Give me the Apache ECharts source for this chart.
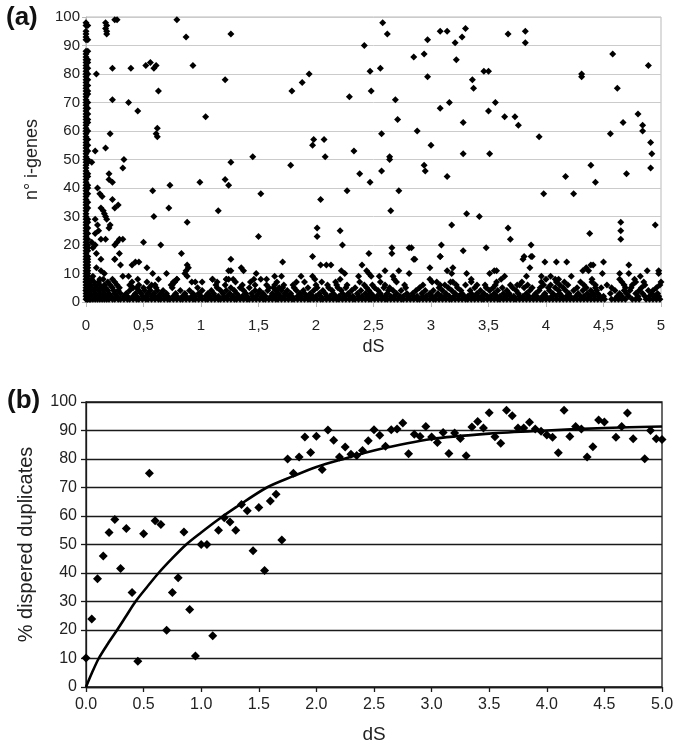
<!DOCTYPE html>
<html><head><meta charset="utf-8">
<script src="https://cdn.jsdelivr.net/npm/echarts@6/dist/echarts.min.js"></script>
<style>html,body{margin:0;padding:0;background:#fff}#c{width:685px;height:750px}</style>
</head><body><div id="c"></div>
<script>
// ---------- Panel (a): nº i-genes vs dS ----------
const ticksA_X = ['0','0,5','1','1,5','2','2,5','3','3,5','4','4,5','5'];
const ticksA_Y = ['0','10','20','30','40','50','60','70','80','90','100'];
// points at dS = 0 (y values)
const colZeroY = [1,2,3,4,5,6,7,8,9,10,11,12,13,14,15,16,17,18,19,20,21,22,23,24,25,26,27,28,29,30,31,32,33,34,35,36,37,38,39,40,41,42,43,44,45,46,47,48,49,50,51,52,53,54,55,56,57,58,59,60,61,62,63,64,65,66,67,68,69,70,71,72,73,74,75,76,77,78,79,80,81,82,83,84,85,86,87,88,92,93,94,95,97,98];
// points at dS = 0.015 (y values)
const colNearZeroY = [1,2,3,4,5,6,7,8,9,10,11,12,13,14,15,16,18,19,20,22,24,26,28,29,33,35,38,40,41,44,45,49,50,53,55,57,60,63,64,66,68,70,73,74,76,78,80,82,84,85,88,92,97];
// dense band: dS values of points with nº i-genes = 1 ... 8
const bandY1 = [0.01,0.03,0.04,0.06,0.08,0.1,0.12,0.14,0.16,0.18,0.2,0.23,0.25,0.28,0.3,0.33,0.36,0.38,0.41,0.44,0.46,0.49,0.52,0.54,0.57,0.6,0.63,0.65,0.68,0.71,0.73,0.76,0.79,0.82,0.84,0.87,0.9,0.93,0.95,0.98,1.01,1.04,1.06,1.09,1.12,1.15,1.17,1.2,1.23,1.26,1.29,1.31,1.34,1.37,1.4,1.42,1.45,1.48,1.51,1.54,1.56,1.59,1.62,1.65,1.67,1.7,1.73,1.76,1.79,1.81,1.84,1.87,1.9,1.93,1.95,1.98,2.01,2.04,2.06,2.09,2.12,2.15,2.18,2.2,2.23,2.26,2.29,2.32,2.34,2.37,2.4,2.43,2.46,2.48,2.51,2.54,2.57,2.6,2.62,2.65,2.68,2.71,2.74,2.76,2.79,2.82,2.85,2.88,2.9,2.93,2.96,2.99,3.02,3.04,3.07,3.1,3.13,3.16,3.18,3.21,3.24,3.27,3.3,3.32,3.35,3.38,3.41,3.44,3.46,3.49,3.52,3.55,3.58,3.6,3.63,3.66,3.69,3.72,3.74,3.77,3.8,3.83,3.86,3.89,3.92,3.95,3.97,4.0,4.03,4.06,4.09,4.12,4.15,4.18,4.21,4.24,4.27,4.3,4.33,4.36,4.39,4.42,4.45,4.48,4.51,4.57,4.6,4.63,4.66,4.69,4.75,4.78,4.81,4.87,4.9,4.93,4.96,4.99];
const bandY2 = [0.02,0.06,0.1,0.14,0.18,0.22,0.27,0.33,0.36,0.41,0.44,0.49,0.52,0.57,0.6,0.63,0.68,0.71,0.76,0.79,0.84,0.87,0.92,0.95,1.0,1.04,1.08,1.12,1.15,1.2,1.23,1.28,1.33,1.36,1.4,1.45,1.48,1.53,1.56,1.61,1.64,1.69,1.72,1.76,1.79,1.84,1.87,1.92,1.97,2.0,2.04,2.09,2.12,2.17,2.2,2.25,2.29,2.32,2.37,2.4,2.45,2.5,2.53,2.57,2.6,2.65,2.68,2.73,2.76,2.81,2.85,2.88,2.93,2.96,3.01,3.04,3.09,3.12,3.16,3.2,3.24,3.29,3.32,3.37,3.41,3.44,3.49,3.52,3.57,3.6,3.65,3.69,3.72,3.77,3.8,3.85,3.89,3.92,3.97,4.0,4.05,4.09,4.14,4.18,4.21,4.26,4.3,4.33,4.38,4.42,4.47,4.5,4.62,4.66,4.72,4.8,4.86,4.9,4.95,4.98];
const bandY3 = [0.01,0.04,0.08,0.12,0.16,0.2,0.25,0.3,0.35,0.43,0.48,0.54,0.59,0.65,0.7,0.78,0.86,0.93,0.98,1.06,1.11,1.19,1.25,1.31,1.39,1.44,1.5,1.54,1.62,1.67,1.73,1.78,1.86,1.9,1.95,2.03,2.08,2.15,2.23,2.28,2.36,2.43,2.48,2.56,2.62,2.7,2.79,2.84,2.92,2.99,3.06,3.13,3.21,3.27,3.35,3.4,3.46,3.55,3.63,3.68,3.76,3.83,3.91,3.99,4.06,4.12,4.2,4.28,4.36,4.41,4.45,4.56,4.64,4.7,4.78,4.84,4.92,4.97];
const bandY4 = [0.0,0.03,0.07,0.11,0.15,0.19,0.24,0.28,0.38,0.46,0.51,0.56,0.62,0.67,0.82,0.9,1.01,1.09,1.17,1.22,1.29,1.37,1.47,1.51,1.58,1.65,1.7,1.75,1.83,1.89,1.98,2.06,2.14,2.22,2.31,2.39,2.46,2.54,2.63,2.67,2.74,2.87,2.95,3.02,3.1,3.18,3.26,3.34,3.43,3.51,3.58,3.66,3.74,3.86,3.94,4.03,4.11,4.17,4.24,4.32,4.39,4.44,4.6,4.68,4.73,4.81,4.89,4.93];
const bandY5 = [0.02,0.05,0.09,0.13,0.17,0.23,0.29,0.4,0.5,0.55,0.61,0.75,0.97,1.14,1.26,1.34,1.42,1.59,1.63,1.68,1.71,1.81,1.93,2.01,2.11,2.19,2.26,2.34,2.44,2.51,2.59,2.64,2.78,2.9,3.07,3.15,3.23,3.38,3.48,3.54,3.62,3.71,3.81,3.88,3.95,4.02,4.08,4.15,4.27,4.35,4.43,4.48,4.57,4.69,4.74,4.83,4.96];
const bandY6 = [0.01,0.04,0.08,0.12,0.16,0.21,0.27,0.38,0.46,0.57,0.6,0.74,1.13,1.21,1.36,1.47,1.57,1.64,1.72,1.8,2.0,2.1,2.18,2.27,2.42,2.49,2.6,2.77,2.93,3.08,3.12,3.22,3.3,3.4,3.47,3.56,3.69,3.75,3.77,3.84,3.98,4.04,4.12,4.19,4.33,4.43,4.53,4.68,4.75,4.86,4.99];
const bandY7 = [0.0,0.03,0.07,0.11,0.19,0.25,0.4,0.53,0.77,0.92,0.95,1.01,1.14,1.3,1.43,1.66,1.83,1.9,2.05,2.17,2.38,2.56,2.7,3.01,3.05,3.17,3.19,3.35,3.57,3.79,3.96,4.09,4.16,4.3,4.4,4.66,4.78,4.85,5.0];
const bandY8 = [0.01,0.05,0.12,0.15,0.23,0.45,0.63,0.79,1.1,1.22,1.24,1.28,1.46,1.52,1.57,1.99,2.21,2.68,2.99,3.35,3.61,4.0,4.08,4.11,4.4,4.64,4.77];
// scattered points [dS, nº i-genes]
const scatterA = [
 [0.17,98],[0.18,97],[0.17,96],[0.18,95],[0.18,94],[0.25,99],[0.27,99],[0.79,99],[0.87,93],[1.26,94],
 [0.09,80],[0.23,82],[0.39,82],[0.52,83],[0.56,84],[0.59,82],[0.61,83],[0.93,83],
 [0.23,71],[0.37,70],[0.45,67],[0.63,74],[0.62,61],[0.61,59],[0.62,58],
 [1.04,65],[1.21,78],[1.79,74],[1.88,77],[1.94,80],
 [0.21,59],[0.17,54],[0.08,53],[0.05,49],[0.33,50],[0.32,47],[0.2,45],[0.2,43],[0.23,42],
 [0.1,40],[0.12,38],[0.14,37],[0.23,36],[0.13,33],[0.15,32],[0.16,31],[0.17,30],[0.18,29],
 [0.25,33],[0.28,34],[0.08,29],[0.1,27],[0.11,25],[0.08,24],[0.21,27],[0.2,26],
 [0.13,22],[0.17,22],[0.05,21],[0.08,20],[0.06,19],[0.09,17],
 [0.25,20],[0.27,21],[0.29,22],[0.32,22],[0.29,17],[0.25,15],[0.3,13],[0.13,15],
 [0.5,21],[0.59,30],[0.58,39],[0.73,41],[0.72,33],[0.65,20],[0.88,28],[0.99,42],[1.15,32],
 [1.21,43],[1.24,41],[1.26,49],[1.45,51],[1.52,38],[1.5,23],[1.78,48],
 [1.97,55],[1.98,57],[2.07,57],[2.08,51],[2.04,36],[2.01,26],[2.01,23],
 [2.29,72],[2.27,39],[2.21,25],[2.23,20],[0.83,17],[1.26,15],[1.71,14],[1.97,16],[2.04,13],
 [2.58,98],[2.62,94],[2.42,90],[2.47,81],[2.56,82],[2.48,74],[2.69,71],[2.71,64],[2.57,59],[2.33,53],
 [2.64,51],[2.64,50],[2.57,46],[2.38,45],[2.47,42],[2.72,39],[2.65,32],[2.46,17],[2.66,19],[2.66,17],
 [2.83,19],[2.81,19],[2.86,15],
 [3.08,95],[3.14,95],[3.3,96],[3.27,93],[3.21,91],[2.97,92],[2.94,87],[2.85,86],[3.22,85],[2.97,79],
 [3.36,78],[3.37,75],[3.46,81],[3.5,81],[3.08,68],[3.16,70],[3.5,67],[3.56,70],[3.28,63],[2.88,60],
 [3.0,55],[3.28,52],[3.51,52],[2.94,48],[2.95,46],[3.14,44],[3.31,31],[3.42,30],[3.18,27],[3.09,20],
 [3.08,16],[3.28,18],[3.48,19],
 [3.67,94],[3.82,95],[3.82,91],[3.64,65],[3.73,65],[3.76,62],[3.94,58],[3.98,38],[3.67,26],[3.69,22],
 [3.87,20],[3.87,16],[3.8,15],
 [4.17,44],[4.24,38],[4.31,80],[4.31,79],[4.39,48],[4.43,42],[4.38,24],[4.58,87],[4.62,75],[4.56,59],
 [4.67,63],[4.7,45],[4.89,83],[4.8,66],[4.84,62],[4.84,60],[4.91,56],[4.92,52],[4.91,47],[4.95,27],
 [4.65,28],[4.65,25],[4.65,22],
 [0.25,15],[0.4,13],[0.43,14],[0.46,14],[0.53,12],[0.58,10],[0.7,10],
 [0.88,13],[0.89,12],[0.87,11],[0.86,10],[0.88,9],[0.79,8],[0.77,7],[0.76,7],[0.75,6],
 [0.09,12],[0.13,11],[0.16,10],[0.06,9],[0.32,9],[0.37,9],[0.41,5],[0.44,5],
 [1.1,8],[1.22,8],[1.24,11],[1.26,11],[1.35,12],[1.37,11],[1.48,10],[1.64,9],[1.7,9],
 [1.87,9],[1.97,9],[2.09,13],[2.13,13],[2.22,11],[2.25,10],[2.4,13],[2.44,11],[2.46,10],[2.37,9],
 [2.85,15],[3.08,16],[2.6,11],[2.72,11],[2.81,10],[2.48,9],[2.55,9],[2.67,9],[2.99,12],
 [3.14,11],[3.19,12],[3.18,10],[3.31,10],[3.51,10],[3.55,11],[3.57,11],[3.64,9],
 [3.81,16],[3.88,16],[3.86,12],[3.83,9],[3.99,14],[4.09,14],[4.18,14],[3.96,9],[4.04,9],[4.22,9],
 [4.32,11],[4.35,12],[4.39,13],[4.41,13],[4.37,11],[4.5,14],[4.49,10],[4.64,10],[4.72,10],[4.72,13],
 [4.82,9],[4.88,11],[4.98,11],[4.98,10]
];

// ---------- Panel (b): % dispersed duplicates vs dS ----------
const ticksB_X = ['0.0','0.5','1.0','1.5','2.0','2.5','3.0','3.5','4.0','4.5','5.0'];
const ticksB_Y = ['0','10','20','30','40','50','60','70','80','90','100'];
const dsB = [0,0.05,0.1,0.15,0.2,0.25,0.3,0.35,0.4,0.45,0.5,0.55,0.6,0.65,0.7,0.75,0.8,0.85,0.9,0.95,
 1.0,1.05,1.1,1.15,1.2,1.25,1.3,1.35,1.4,1.45,1.5,1.55,1.6,1.65,1.7,1.75,1.8,1.85,1.9,1.95,
 2.0,2.05,2.1,2.15,2.2,2.25,2.3,2.35,2.4,2.45,2.5,2.55,2.6,2.65,2.7,2.75,2.8,2.85,2.9,2.95,
 3.0,3.05,3.1,3.15,3.2,3.25,3.3,3.35,3.4,3.45,3.5,3.55,3.6,3.65,3.7,3.75,3.8,3.85,3.9,3.95,
 4.0,4.05,4.1,4.15,4.2,4.25,4.3,4.35,4.4,4.45,4.5,4.6,4.65,4.7,4.75,4.85,4.9,4.95,5.0];
const pctB = [10.2,23.9,38,46,54.2,58.8,41.6,55.6,33.2,9,53.8,75,58.3,57,19.9,33.2,38.3,54.4,27.2,10.9,
 50,50,18,55,59.4,57.9,55,64,61.8,47.8,63,40.9,65.3,67.6,51.6,80,75,80.7,87.7,82.3,
 88,76.3,90.2,86.6,80.7,84.2,81.7,81.2,83,86.4,90.3,88.3,84.5,90.3,90.5,92.6,81.8,88.7,87.9,91.4,
 87.7,85.8,89.3,81.9,89.1,87.2,81.1,91.2,93.2,90.9,96.2,87.8,85.5,97.1,95.2,90.9,90.9,92.9,90.5,89.7,
 88.4,87.6,82.2,97.1,87.9,91.4,90.5,80.7,84.3,93.7,93,87.6,91.4,96.1,87.1,80.1,90,87.1,86.8];
// fitted curve, points
const fitX = [0,0.05,0.11,0.19,0.27,0.35,0.43,0.53,0.63,0.75,0.87,1.0,1.14,1.3,1.57,1.8,2.0,2.25,2.5,3.0,3.5,4.0,4.5,5.0];
const fitY = [0,4.8,10,15.2,20,25,30,35.1,40,45.2,50,54.2,58.5,63,70,74,77.2,80.2,83,87,88.9,90,90.9,91.4];

// ---------- build ----------
const dataA = [];
colZeroY.forEach(y => dataA.push([0, y]));
colNearZeroY.forEach(y => dataA.push([0.015, y]));
[[bandY1,1],[bandY2,2],[bandY3,3],[bandY4,4],[bandY5,5],[bandY6,6],[bandY7,7],[bandY8,8]]
  .forEach(([xs, y]) => xs.forEach(x => dataA.push([x, y])));
scatterA.forEach(p => dataA.push(p));
const dataB = dsB.map((x, i) => [x, pctB[i]]);
const dataFit = fitX.map((x, i) => [x, fitY[i]]);

const FONT = '"Liberation Sans", Arial, Helvetica, sans-serif';
const chart = echarts.init(document.getElementById('c'), null, {renderer: 'canvas'});
const grayA = '#b9b9b9';
const dark = '#1a1a1a';
chart.setOption({
  animation: false,
  backgroundColor: '#ffffff',
  textStyle: {fontFamily: FONT},
  grid: [
    {left: 86, top: 17, width: 575, height: 285, show: true, borderColor: grayA, borderWidth: 1, backgroundColor: 'transparent'},
    {left: 86, top: 402, width: 576, height: 285, show: true, borderColor: dark, borderWidth: 1.3, backgroundColor: 'transparent'}
  ],
  xAxis: [
    {gridIndex: 0, type: 'value', min: 0, max: 5, interval: 0.5,
     axisLine: {show: true, lineStyle: {color: grayA, width: 1}},
     axisTick: {show: true, length: 5, lineStyle: {color: grayA}},
     splitLine: {show: false},
     axisLabel: {margin: 16, fontSize: 15, color: '#222', fontFamily: FONT,
       formatter: v => ticksA_X[Math.round(v / 0.5)]},
     name: 'dS', nameLocation: 'middle', nameGap: 36,
     nameTextStyle: {fontSize: 18, color: '#222', fontFamily: FONT}},
    {gridIndex: 1, type: 'value', min: 0, max: 5, interval: 0.5,
     axisLine: {show: true, lineStyle: {color: dark, width: 1.3}},
     axisTick: {show: true, length: 5, lineStyle: {color: dark, width: 1.3}},
     splitLine: {show: false},
     axisLabel: {margin: 10, fontSize: 16, color: '#222', fontFamily: FONT,
       formatter: v => ticksB_X[Math.round(v / 0.5)]},
     name: 'dS', nameLocation: 'middle', nameGap: 38,
     nameTextStyle: {fontSize: 19, color: '#222', fontFamily: FONT}}
  ],
  yAxis: [
    {gridIndex: 0, type: 'value', min: 0, max: 100, interval: 10,
     axisLine: {show: true, lineStyle: {color: grayA}},
     axisTick: {show: true, length: 4, lineStyle: {color: grayA}},
     splitLine: {show: true, lineStyle: {color: '#cbcbcb', width: 1}},
     axisLabel: {margin: 6, fontSize: 15, color: '#222', fontFamily: FONT,
       formatter: v => ticksA_Y[Math.round(v / 10)]},
     name: 'n° i-genes', nameLocation: 'middle', nameGap: 45,
     nameTextStyle: {fontSize: 18, color: '#222', fontFamily: FONT}},
    {gridIndex: 1, type: 'value', min: 0, max: 100, interval: 10,
     axisLine: {show: true, lineStyle: {color: dark, width: 1.3}},
     axisTick: {show: true, length: 5, lineStyle: {color: dark, width: 1.3}},
     splitLine: {show: true, lineStyle: {color: dark, width: 1.3}},
     axisLabel: {margin: 9, fontSize: 16, color: '#222', fontFamily: FONT,
       formatter: v => ticksB_Y[Math.round(v / 10)]},
     name: '% dispered duplicates', nameLocation: 'middle', nameGap: 50,
     nameTextStyle: {fontSize: 20, color: '#222', fontFamily: FONT}}
  ],
  series: [
    {type: 'scatter', xAxisIndex: 0, yAxisIndex: 0, symbol: 'diamond', symbolSize: 7,
     itemStyle: {color: '#000', opacity: 1}, data: dataA, silent: true},
    {type: 'line', xAxisIndex: 1, yAxisIndex: 1, smooth: 0.3, showSymbol: false,
     lineStyle: {color: '#000', width: 2.6}, data: dataFit, silent: true, z: 3},
    {type: 'scatter', xAxisIndex: 1, yAxisIndex: 1, symbol: 'diamond', symbolSize: 9,
     itemStyle: {color: '#000', opacity: 1}, data: dataB, silent: true, z: 4}
  ],
  graphic: [
    {type: 'text', left: 6, top: 5, style: {text: '(a)', font: 'bold 26px ' + FONT, fill: '#111'}},
    {type: 'text', left: 7, top: 388, style: {text: '(b)', font: 'bold 26px ' + FONT, fill: '#111'}}
  ]
});
</script></body></html>
